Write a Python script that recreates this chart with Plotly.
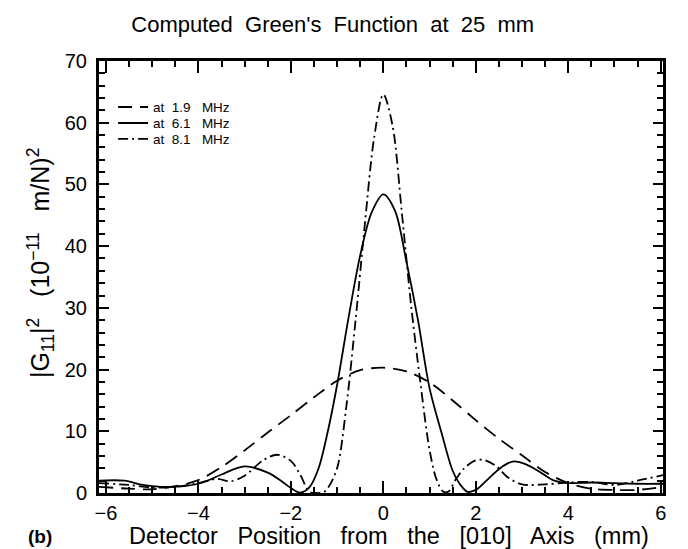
import plotly.graph_objects as go

# 1.9 MHz (dashed)
x19 = [-6.15, -5.5, -5.0, -4.5, -4.0, -3.5, -3.0, -2.5, -2.0, -1.5, -1.0, -0.5, 0.0,
       0.5, 1.0, 1.5, 2.0, 2.5, 3.0, 3.5, 4.0, 4.5, 5.0, 5.5, 6.05]
y19 = [1.0, 0.7, 0.6, 1.1, 2.1, 4.2, 6.9, 9.8, 12.6, 15.5, 18.2, 19.9, 20.3,
       19.7, 17.9, 15.0, 11.8, 8.8, 6.1, 3.4, 1.6, 0.7, 0.5, 0.5, 1.0]

# 6.1 MHz (solid)
x61 = [-6.15, -5.6, -5.2, -4.8, -4.3, -3.9, -3.5, -3.0, -2.5, -2.2, -2.0, -1.8, -1.6,
       -1.4, -1.2, -1.0, -0.75, -0.5, -0.25, 0.0, 0.25, 0.5, 0.75, 1.0, 1.25, 1.5,
       1.65, 1.82, 2.0, 2.2, 2.4, 2.6, 2.8, 3.1, 3.45, 3.7, 4.0, 4.5, 5.0, 5.5, 6.05]
y61 = [2.0, 2.0, 1.3, 1.0, 1.1, 1.7, 3.0, 4.3, 3.3, 1.9, 0.8, 0.05, 0.9,
       4.0, 10.0, 17.5, 28.5, 38.5, 45.5, 48.4, 45.8, 37.5, 28.0, 17.0, 10.0, 3.6,
       1.5, 0.2, 0.5, 1.8, 3.2, 4.4, 5.1, 4.6, 3.1, 2.0, 1.6, 1.7, 1.6, 1.5, 1.5]

# 8.1 MHz (dash-dot)
x81 = [-6.15, -5.5, -5.0, -4.5, -4.0, -3.6, -3.3, -3.0, -2.6, -2.3, -2.0, -1.8, -1.6,
       -1.45, -1.3, -1.2, -1.0, -0.8, -0.6, -0.4, -0.2, 0.0, 0.2, 0.4, 0.6, 0.8, 1.0,
       1.15, 1.3, 1.42, 1.55, 1.75, 2.0, 2.2, 2.45, 2.7, 3.0, 3.5, 4.0, 4.5, 5.0, 5.5, 6.05]
y81 = [1.6, 1.3, 0.9, 1.0, 1.6, 2.3, 1.9, 2.8, 5.3, 6.2, 5.2, 3.0, 0.2,
       0.0, 0.1, 0.8, 4.0, 14.0, 28.0, 43.5, 57.5, 64.6, 59.5, 45.5, 30.5, 18.0, 7.0,
       2.2, 0.2, 0.3, 2.0, 4.0, 5.3, 5.3, 4.3, 2.5, 1.4, 1.4, 1.7, 1.8, 1.3, 2.0, 2.9]

names = ["at\u00a0 1.9\u00a0\u00a0 MHz", "at\u00a0 6.1\u00a0\u00a0 MHz", "at\u00a0 8.1\u00a0\u00a0 MHz"]
x_tickvals = [-6, -4, -2, 0, 2, 4, 6]
x_ticktext = ["\u22126", "\u22124", "\u22122", "0", "2", "4", "6"]
FONT = "Liberation Sans"
SP = "\u00a0 "

fig = go.Figure()
styles = ["14px,8px", "solid", "10px,4px,2px,4px"]
legend_ids = ["legend", "legend2", "legend3"]
for xs, ys, nm, dash, lg in zip([x19, x61, x81], [y19, y61, y81], names, styles, legend_ids):
    fig.add_trace(go.Scatter(x=xs, y=ys, mode="lines", name=nm, legend=lg,
                             line=dict(color="black", width=1.8, dash=dash,
                                       shape="spline", smoothing=0.9)))

axis_common = dict(showgrid=False, zeroline=False, showline=True, linecolor="black",
                   linewidth=3, mirror="allticks", ticks="inside", tickcolor="black",
                   tickwidth=1.5, tickfont=dict(family=FONT, size=20, color="black"))

fig.update_xaxes(range=[-6.15, 6.05], tickvals=x_tickvals, ticktext=x_ticktext,
                 ticklen=12,
                 minor=dict(dtick=0.5, tick0=0, ticks="inside", ticklen=6,
                            tickcolor="black", tickwidth=1.5),
                 **axis_common)
fig.update_yaxes(range=[0, 70], dtick=10, ticklen=10,
                 minor=dict(dtick=2, ticks="inside", ticklen=6,
                            tickcolor="black", tickwidth=1.5),
                 ticklabelstandoff=5,
                 **axis_common)

leg_common = dict(xanchor="left", yanchor="middle", bgcolor="rgba(0,0,0,0)",
                  font=dict(family=FONT, size=13.5, color="black"), itemwidth=30)

fig.update_layout(
    width=688, height=549,
    margin=dict(l=91, r=33, t=53, b=64),
    paper_bgcolor="white", plot_bgcolor="white",
    font=dict(family=FONT, color="black"),
    title=dict(text="Computed" + SP + "Green's" + SP + "Function" + SP + "at" + SP + "25" + SP + "mm",
               x=0.472, xref="container", xanchor="center", y=0.971, yref="container",
               yanchor="middle",
               font=dict(family=FONT, size=22, color="black")),
    showlegend=True,
    legend=dict(x=0.025, y=0.893, **leg_common),
    legend2=dict(x=0.025, y=0.856, **leg_common),
    legend3=dict(x=0.025, y=0.819, **leg_common),
    annotations=[
        dict(text=("\u00a0\u00a0 ").join(["Detector", "Position", "from", "the", "[010]", "Axis", "(mm)"]),
             xref="paper", yref="paper", x=0.514, y=-0.1, xanchor="center", yanchor="middle",
             showarrow=False, font=dict(family=FONT, size=23.5)),
        dict(text="<b>(b)</b>", xref="paper", yref="paper", x=-0.105, y=-0.1,
             xanchor="center", yanchor="middle", showarrow=False,
             font=dict(family=FONT, size=19)),
        dict(text="|G<sub>11</sub>|<sup>2</sup>\u00a0\u00a0 (10<sup>\u221211</sup>\u00a0\u00a0 m/N)<sup>2</sup>",
             xref="paper", yref="paper", x=-0.103, y=0.532, textangle=-90,
             xanchor="center", yanchor="middle", showarrow=False,
             font=dict(family=FONT, size=25)),
    ],
)

fig.write_html("out.html")
